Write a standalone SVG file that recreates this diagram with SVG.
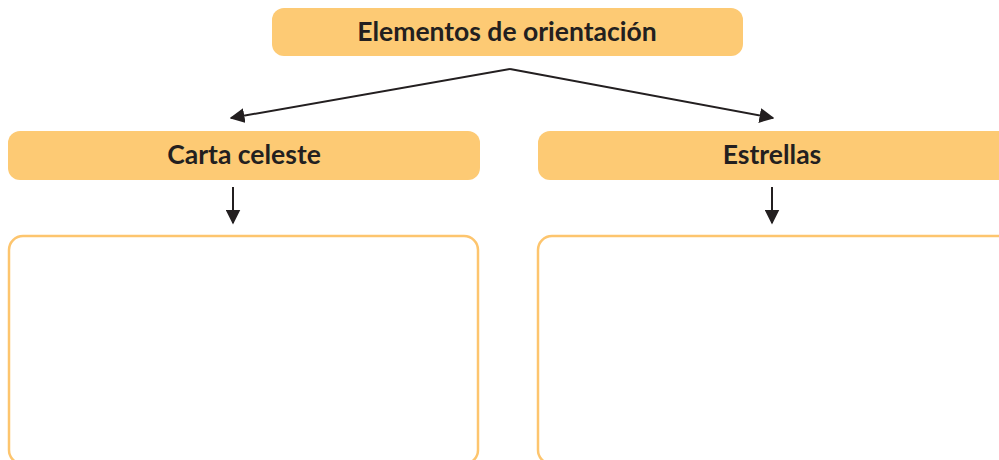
<svg xmlns="http://www.w3.org/2000/svg" width="999" height="460" viewBox="0 0 999 460">
<style>
.hdr{fill:#FDCA74;}
.box{fill:#fff;stroke:#FDC56E;stroke-width:2.5;}
.lbl{font-family:Lato,"Open Sans",sans-serif;font-weight:bold;font-size:26.5px;fill:#231F20;text-anchor:middle;}
.con{stroke:#231F20;stroke-width:2;fill:none;}
</style>
<defs>
<marker id="ah" viewBox="0 0 10 10" refX="9" refY="5" markerWidth="15" markerHeight="15" markerUnits="userSpaceOnUse" orient="auto">
<path d="M0,0 L10,5 L0,10 z" fill="#231F20"/>
</marker>
</defs>
<g id="connectors">
<path class="con" d="M510,69 L231,118" marker-end="url(#ah)"/>
<path class="con" d="M510,69 L773,118" marker-end="url(#ah)"/>
<path class="con" d="M233,187 L233,223" marker-end="url(#ah)"/>
<path class="con" d="M772,187 L772,223" marker-end="url(#ah)"/>
</g>
<g id="n-top">
<rect class="hdr" x="272" y="8" width="471" height="48" rx="12"/>
<text class="lbl" x="507" y="41">Elementos de orientación</text>
</g>
<g id="n-carta">
<rect class="hdr" x="8" y="131" width="472" height="49" rx="12"/>
<text class="lbl" x="244" y="164">Carta celeste</text>
</g>
<g id="n-estrellas">
<rect class="hdr" x="538" y="131" width="475" height="49" rx="12"/>
<text class="lbl" x="772" y="164">Estrellas</text>
</g>
<g id="n-box-left">
<rect class="box" x="9" y="236" width="469" height="228" rx="14"/>
</g>
<g id="n-box-right">
<rect class="box" x="538" y="236" width="475" height="228" rx="14"/>
</g>
</svg>
